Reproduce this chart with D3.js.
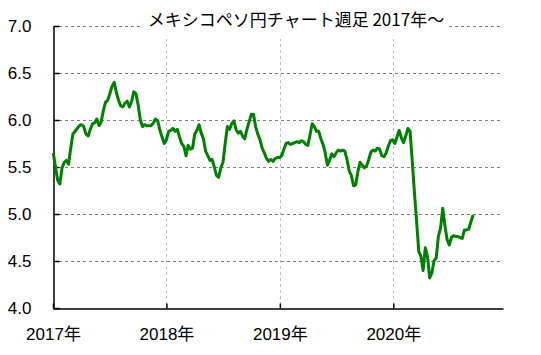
<!DOCTYPE html>
<html>
<head>
<meta charset="utf-8">
<script src="https://cdn.jsdelivr.net/npm/d3@7"></script>
<style>
  html, body { margin: 0; padding: 0; background: #fff; }
  svg { display: block; }
  .tick text { font-family: "Liberation Sans", "Noto Sans CJK JP", sans-serif; font-size: 17px; fill: #000; }
</style>
</head>
<body>
<svg id="chart" width="541" height="355"></svg>
<script>
// weekly closes, MXN/JPY, first week starting 2017-01-02
const startWeek = '2017-01-02';
const rates = [
    5.65, 5.50, 5.36, 5.32, 5.49, 5.55, 5.57, 5.53, 5.70, 5.85,
    5.88, 5.91, 5.94, 5.95, 5.93, 5.85, 5.83, 5.90, 5.96, 5.97,
    6.01, 5.94, 5.98, 6.10, 6.19, 6.21, 6.28, 6.36, 6.40, 6.29,
    6.21, 6.15, 6.14, 6.18, 6.20, 6.14, 6.20, 6.30, 6.28, 6.16,
    6.00, 5.93, 5.95, 5.94, 5.94, 5.94, 5.97, 6.01, 5.99, 5.89,
    5.82, 5.75, 5.79, 5.88, 5.89, 5.91, 5.88, 5.90, 5.82, 5.75,
    5.72, 5.62, 5.73, 5.69, 5.70, 5.85, 5.89, 5.95, 5.86, 5.80,
    5.67, 5.62, 5.57, 5.58, 5.50, 5.41, 5.39, 5.49, 5.55, 5.75,
    5.93, 5.90, 5.96, 5.99, 5.90, 5.86, 5.88, 5.83, 5.80, 5.90,
    5.98, 6.06, 6.06, 5.93, 5.85, 5.79, 5.70, 5.65, 5.59, 5.56,
    5.58, 5.56, 5.59, 5.60, 5.60, 5.62, 5.69, 5.75, 5.76, 5.74,
    5.75, 5.76, 5.77, 5.76, 5.78, 5.77, 5.74, 5.73, 5.84, 5.96,
    5.93, 5.88, 5.88, 5.80, 5.74, 5.65, 5.52, 5.57, 5.64, 5.61,
    5.65, 5.68, 5.67, 5.68, 5.67, 5.58, 5.46, 5.41, 5.30, 5.31,
    5.45, 5.55, 5.52, 5.49, 5.51, 5.58, 5.66, 5.68, 5.67, 5.70,
    5.69, 5.62, 5.61, 5.65, 5.72, 5.78, 5.79, 5.75, 5.82, 5.89,
    5.81, 5.76, 5.83, 5.91, 5.88, 5.56, 5.23, 4.92, 4.60, 4.55,
    4.40, 4.64, 4.55, 4.32, 4.37, 4.50, 4.53, 4.76, 4.85, 5.06,
    4.88, 4.73, 4.67, 4.75, 4.77, 4.76, 4.76, 4.75, 4.74, 4.83,
    4.83, 4.84, 4.92, 4.99
];
const yearTicks = ['2017-01-01', '2018-01-01', '2019-01-01', '2020-01-01'];
const yearLabels = ['2017年', '2018年', '2019年', '2020年'];
const yTicks = [4.0, 4.5, 5.0, 5.5, 6.0, 6.5, 7.0];
const xDomain = ['2017-01-01', '2020-12-19'];
const title = 'メキシコペソ円チャート週足 2017年～';

const parse = d3.timeParse('%Y-%m-%d');
const first = parse(startWeek);
const series = rates.map((v, i) => ({ date: d3.timeDay.offset(first, 7 * i), value: v }));

const plotLeft = 53, plotRight = 503, plotTop = 26, plotBottom = 308;
const svg = d3.select('#chart');

const x = d3.scaleTime().domain(xDomain.map(parse)).range([plotLeft, plotRight]);
const y = d3.scaleLinear().domain([4, 7]).range([plotBottom, plotTop]);

// grid
svg.append('g')
    .selectAll('line')
    .data(yTicks.slice(1))
    .join('line')
    .attr('x1', plotLeft).attr('x2', 500)
    .attr('y1', (d) => y(d) + 0.5).attr('y2', (d) => y(d) + 0.5)
    .attr('stroke', '#808080')
    .attr('stroke-dasharray', '3 3');

svg.append('g')
    .selectAll('line')
    .data(yearTicks.slice(1).map(parse))
    .join('line')
    .attr('x1', (d) => Math.round(x(d)) + 0.5).attr('x2', (d) => Math.round(x(d)) + 0.5)
    .attr('y1', plotTop).attr('y2', plotBottom)
    .attr('stroke', '#c0c0c0')
    .attr('stroke-dasharray', '3 3');

// title box hides the grid behind the title
svg.append('rect')
    .attr('x', 143).attr('y', 8).attr('width', 304).attr('height', 31)
    .attr('fill', '#fff');

svg.append('text')
    .attr('x', 296).attr('y', 26)
    .attr('text-anchor', 'middle')
    .style('font-family', '"Noto Sans CJK JP", sans-serif')
    .style('font-size', '17px')
    .attr('fill', '#000')
    .text(title);

// axes
const yAxis = d3.axisLeft(y)
    .tickValues(yTicks)
    .tickFormat(d3.format('.1f'))
    .tickSizeInner(-6)
    .tickSizeOuter(0)
    .tickPadding(22);

svg.append('g')
    .attr('transform', `translate(${plotLeft + 0.5},0)`)
    .call(yAxis)
    .call((g) => g.selectAll('path, line').attr('stroke', '#000').attr('stroke-width', 1.5));

const xAxis = d3.axisBottom(x)
    .tickValues(yearTicks.map(parse))
    .tickFormat((d, i) => yearLabels[i])
    .tickSizeInner(-5)
    .tickSizeOuter(0)
    .tickPadding(19);

svg.append('g')
    .attr('transform', `translate(0,${plotBottom + 0.5})`)
    .call(xAxis)
    .call((g) => g.selectAll('path, line').attr('stroke', '#000').attr('stroke-width', 1.5));

// rate line
const line = d3.line()
    .x((d) => x(d.date))
    .y((d) => y(d.value));

svg.append('path')
    .datum(series)
    .attr('fill', 'none')
    .attr('stroke', '#008000')
    .attr('stroke-width', 3)
    .attr('stroke-linejoin', 'round')
    .attr('d', line);
</script>
</body>
</html>
